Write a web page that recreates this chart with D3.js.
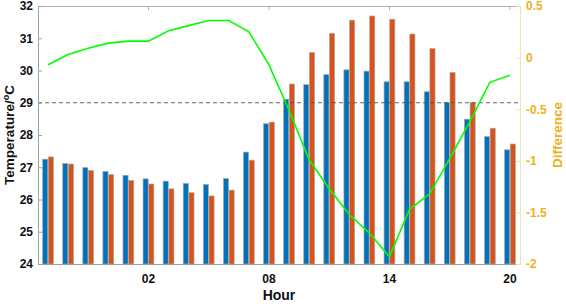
<!DOCTYPE html>
<html>
<head>
<meta charset="utf-8">
<script src="https://cdn.jsdelivr.net/npm/d3@7"></script>
<style>
  body { margin: 0; background: #fff; }
  text { font-family: "Liberation Sans", Arial, sans-serif; font-weight: bold; }
</style>
</head>
<body>
<div id="chart"></div>
<script>
// chart data
const hours = ["21", "22", "23", "00", "01", "02", "03", "04", "05", "06", "07", "08",
               "09", "10", "11", "12", "13", "14", "15", "16", "17", "18", "19", "20"];
const tempBlue = [27.25, 27.12, 26.99, 26.87, 26.75, 26.64, 26.57, 26.50, 26.47, 26.65, 27.47, 28.35,
                  29.11, 29.56, 29.87, 30.02, 29.98, 29.65, 29.65, 29.34, 29.01, 28.49, 27.95, 27.54];
const tempOrange = [27.32, 27.10, 26.90, 26.77, 26.59, 26.48, 26.33, 26.21, 26.11, 26.29, 27.22, 28.40,
                    29.58, 30.56, 31.15, 31.56, 31.69, 31.59, 31.13, 30.68, 29.94, 29.01, 28.21, 27.72];
const difference = [-0.07, 0.03, 0.09, 0.14, 0.16, 0.16, 0.26, 0.31, 0.36, 0.36, 0.25, -0.07,
                    -0.51, -0.99, -1.27, -1.52, -1.70, -1.93, -1.47, -1.32, -0.98, -0.62, -0.24, -0.17];
const xTicks = ["02", "08", "14", "20"];
const leftTicks = [24, 25, 26, 27, 28, 29, 30, 31, 32];
const rightTicks = [0.5, 0, -0.5, -1, -1.5, -2];
const refLine = 29;

const width = 566;
const height = 304;
const margin = { top: 6, right: 46, bottom: 40, left: 38 };
const x0 = margin.left, x1 = width - margin.right;
const y0 = height - margin.bottom, y1 = margin.top;

const blue = "#0072BD";
const orange = "#D95319";
const yellow = "#EDB120";

const svg = d3.select("#chart").append("svg")
    .attr("width", width)
    .attr("height", height);

const x = d3.scaleBand().domain(hours).range([x0, x1]).padding(0);
const xs = d3.scaleBand().domain(["a", "b"])
    .range([x.bandwidth() / 2 - 5.4, x.bandwidth() / 2 + 5.4])
    .paddingInner(0.1);
const yL = d3.scaleLinear().domain([24, 32]).range([y0, y1]);
const yR = d3.scaleLinear().domain([-2, 0.5]).range([y0, y1]);

// bars
const groups = svg.append("g").selectAll("g")
    .data(hours)
    .join("g")
    .attr("transform", d => `translate(${x(d)},0)`);

groups.append("rect")
    .attr("x", xs("a"))
    .attr("width", xs.bandwidth())
    .attr("y", (d, i) => yL(tempBlue[i]))
    .attr("height", (d, i) => y0 - yL(tempBlue[i]))
    .attr("fill", blue)
    .attr("stroke", "#a8a8a8")
    .attr("stroke-width", 0.7);

groups.append("rect")
    .attr("x", xs("b"))
    .attr("width", xs.bandwidth())
    .attr("y", (d, i) => yL(tempOrange[i]))
    .attr("height", (d, i) => y0 - yL(tempOrange[i]))
    .attr("fill", orange)
    .attr("stroke", "#a8a8a8")
    .attr("stroke-width", 0.7);

// reference dashed line
svg.append("line")
    .attr("x1", x0).attr("x2", x1)
    .attr("y1", yL(refLine)).attr("y2", yL(refLine))
    .attr("stroke", "#555")
    .attr("stroke-width", 0.9)
    .attr("stroke-dasharray", "4,3");

// difference line
const line = d3.line()
    .x((d, i) => x(hours[i]) + x.bandwidth() / 2)
    .y(d => yR(d));

svg.append("path")
    .datum(difference)
    .attr("d", line)
    .attr("fill", "none")
    .attr("stroke", "#00FF00")
    .attr("stroke-width", 1.6);

// axes
const axisBottom = svg.append("g")
    .attr("transform", `translate(0,${y0})`)
    .call(d3.axisBottom(x).tickValues(xTicks).tickSizeInner(-4).tickSizeOuter(0).tickPadding(10));
axisBottom.select(".domain").attr("stroke", "#a0a0a0");
axisBottom.selectAll(".tick line").attr("stroke", "#a0a0a0");
axisBottom.selectAll("text").attr("font-size", 12).attr("fill", "#111");

const axisTop = svg.append("g")
    .attr("transform", `translate(0,${y1})`)
    .call(d3.axisTop(x).tickValues(xTicks).tickSizeInner(-4).tickSizeOuter(0).tickFormat(""));
axisTop.select(".domain").attr("stroke", "#b0b0b0");
axisTop.selectAll(".tick line").attr("stroke", "#b0b0b0");

const axisLeft = svg.append("g")
    .attr("transform", `translate(${x0},0)`)
    .call(d3.axisLeft(yL).tickValues(leftTicks).tickSizeInner(-4).tickSizeOuter(0).tickPadding(5));
axisLeft.select(".domain").attr("stroke", "#a0a0a0");
axisLeft.selectAll(".tick line").attr("stroke", "#a0a0a0");
axisLeft.selectAll("text").attr("font-size", 12).attr("fill", "#111");

const axisRight = svg.append("g")
    .attr("transform", `translate(${x1},0)`)
    .call(d3.axisRight(yR).tickValues(rightTicks).tickFormat(d3.format("")).tickSizeInner(-4).tickSizeOuter(0).tickPadding(6));
axisRight.select(".domain").attr("stroke", "#f3e0b0");
axisRight.selectAll(".tick line").attr("stroke", "#f3e0b0");
axisRight.selectAll("text").attr("font-size", 12).attr("fill", yellow)
    .text(d => d < 0 ? "-" + Math.abs(d) : d);

// axis titles
svg.append("text")
    .attr("x", (x0 + x1) / 2)
    .attr("y", 300)
    .attr("text-anchor", "middle")
    .attr("font-size", 14)
    .attr("fill", "#111")
    .text("Hour");

const yTitle = svg.append("text")
    .attr("transform", `translate(14,${(y0 + y1) / 2}) rotate(-90)`)
    .attr("text-anchor", "middle")
    .attr("font-size", 13.5)
    .attr("fill", "#111");
yTitle.append("tspan").text("Temperature/");
yTitle.append("tspan").attr("font-size", 9).attr("dy", -5).text("o");
yTitle.append("tspan").attr("dy", 5).text("C");

svg.append("text")
    .attr("transform", `translate(557,${(y0 + y1) / 2}) rotate(-90)`)
    .attr("text-anchor", "middle")
    .attr("dy", "0.35em")
    .attr("font-size", 13.5)
    .attr("fill", yellow)
    .text("Difference");
</script>
</body>
</html>
